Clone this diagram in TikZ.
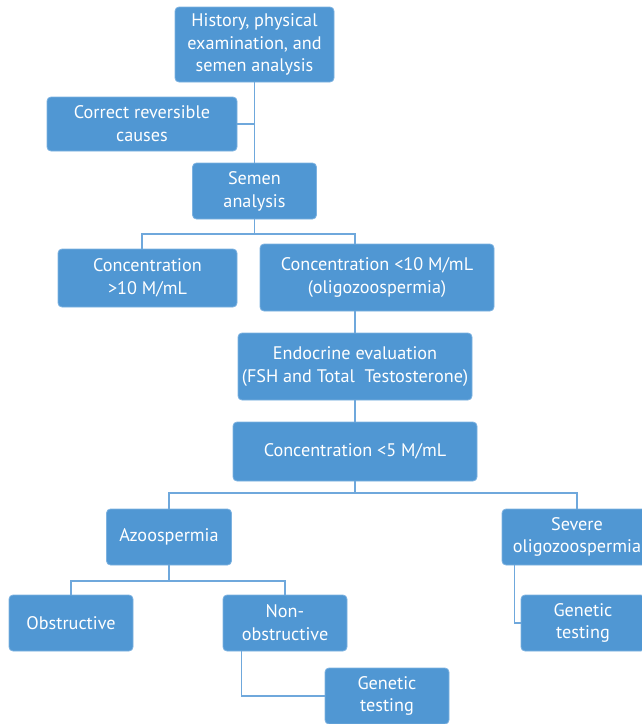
\documentclass[tikz,border=0pt]{standalone}
\usepackage{fontspec}
\setmainfont{PT Sans}
\usepackage{tikz}
\usetikzlibrary{calc,positioning}
\definecolor{kutuMavi}{HTML}{5097D3}
\definecolor{kenarMavi}{HTML}{7DB2E0}
\definecolor{hatMavi}{HTML}{6FA8DC}

\begin{document}
\begin{tikzpicture}[x=1pt,y=-1pt,
  kutu/.style={draw=kenarMavi,line width=0.8pt,fill=kutuMavi,rounded corners=4pt,
    text=white,align=center,inner sep=0pt,
    font=\fontsize{18.2}{22.8}\selectfont},
  hat/.style={draw=hatMavi,line width=1.4pt}]
\useasboundingbox (0,0) rectangle (642,724);
\node[kutu,minimum width=159,minimum height=75] (gecmis) at (254.5,44.5) {History, physical\\examination, and\\semen analysis};
\node[kutu,minimum width=190,minimum height=54] (duzelt) at (142,124) {Correct reversible\\causes};
\node[kutu,minimum width=124,minimum height=56] (semen) at (254.5,191) {Semen\\analysis};
\node[kutu,minimum width=179,minimum height=58] (konYuksek) at (147.5,278) {Concentration\\>10 M/mL};
\node[kutu,minimum width=234,minimum height=67] (konDusuk) at (377,277.5) {Concentration <10 M/mL\\(oligozoospermia)};
\node[kutu,minimum width=234,minimum height=67] (endokrin) at (355,366.5) {Endocrine evaluation\\(FSH and Total~~Testosterone)};
\node[kutu,minimum width=244,minimum height=59] (konBes) at (355,451.5) {Concentration <5 M/mL};
\node[kutu,minimum width=125,minimum height=56] (azoo) at (169,537) {Azoospermia};
\node[kutu,minimum width=150,minimum height=56] (siddetli) at (577,537) {Severe\\oligozoospermia};
\node[kutu,minimum width=124,minimum height=56] (obstruktif) at (71,623) {Obstructive};
\node[kutu,minimum width=124,minimum height=56] (nonobs) at (285,623) {Non-\\obstructive};
\node[kutu,minimum width=124,minimum height=56] (genetikA) at (387,696) {Genetic\\testing};
\node[kutu,minimum width=124,minimum height=56] (genetikB) at (583,623) {Genetic\\testing};
\coordinate (dal1) at (254.5,234);
\coordinate (dal2) at (355,493);
\coordinate (dal3) at (169,581);
\draw[hat] (gecmis.south) -- (semen.north);
\draw[hat] (duzelt.east) -- (duzelt.east -| gecmis.south);
\draw[hat] (semen.south) -- (dal1);
\draw[hat] (dal1) -| ([xshift=-5.5]konYuksek.north);
\draw[hat] (dal1) -| (konDusuk.north -| endokrin.north);
\draw[hat] (konDusuk.south -| endokrin.north) -- (endokrin.north);
\draw[hat] (endokrin.south) -- (konBes.north);
\draw[hat] (konBes.south) -- (dal2);
\draw[hat] (dal2) -| (azoo.north);
\draw[hat] (dal2) -| (siddetli.north);
\draw[hat] (azoo.south) -- (dal3);
\draw[hat] (dal3) -| (obstruktif.north);
\draw[hat] (dal3) -| (nonobs.north);
\draw[hat] ([xshift=19]nonobs.south west) |- (genetikA.west);
\draw[hat] ([xshift=13]siddetli.south west) |- (genetikB.west);
\end{tikzpicture}
\end{document}
